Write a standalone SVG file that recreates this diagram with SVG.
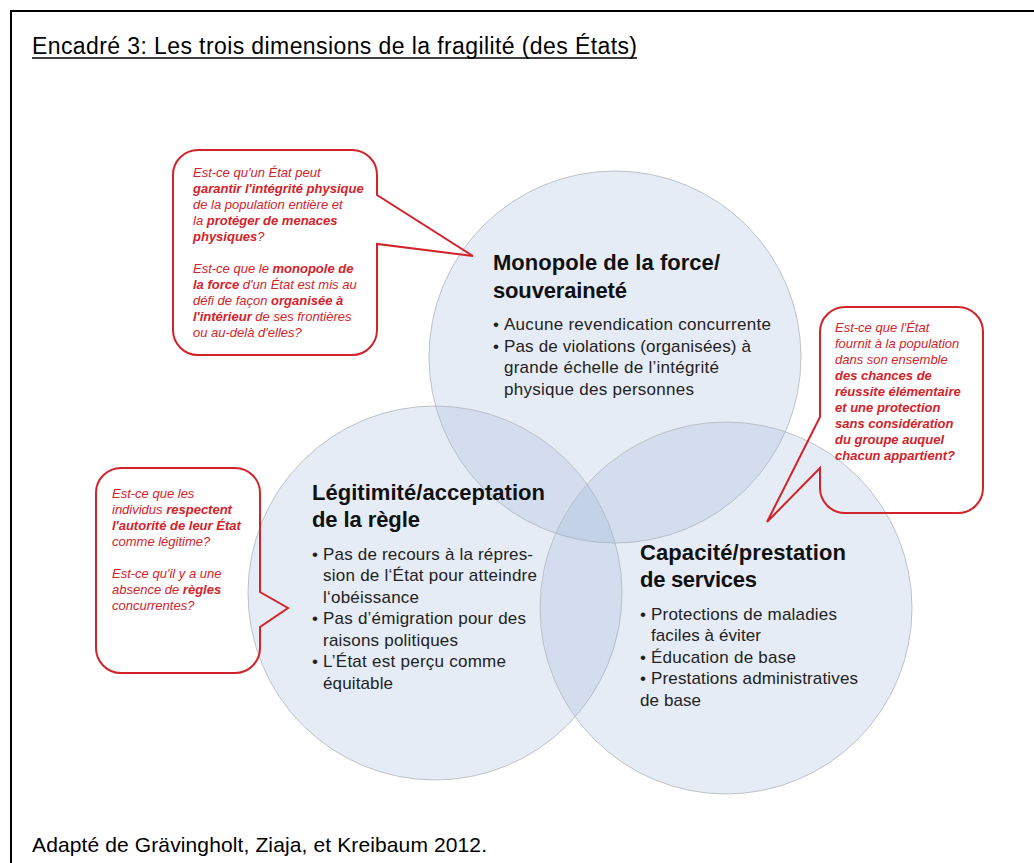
<svg xmlns="http://www.w3.org/2000/svg" width="1034" height="863" viewBox="0 0 1034 863">
<style>
.frame{stroke:#000;stroke-width:2;fill:none}
.ttl{font-family:"Liberation Sans",Arial,sans-serif;fill:#000}
.circ{fill:#97b0d5;fill-opacity:0.24;stroke:#b8bcc2;stroke-width:0.9}
.head{font-family:"Liberation Sans",Arial,sans-serif;font-weight:bold;font-size:22px;fill:#111}
.bul{font-family:"Liberation Sans",Arial,sans-serif;font-size:17px;fill:#222}
.call{fill:none;stroke:#d2232a;stroke-width:2;stroke-linejoin:miter}
.q{font-family:"Liberation Sans",Arial,sans-serif;font-size:13px;font-style:italic;fill:#d2232a}
.b{font-weight:bold}
</style>
<rect width="1034" height="863" fill="#fff"/>
<g id="frame">
<line class="frame" x1="10" y1="11" x2="1034" y2="11"/>
<line class="frame" x1="11" y1="10" x2="11" y2="863"/>
</g>
<g id="title">
<text class="ttl" x="32" y="54" font-size="23" textLength="605" lengthAdjust="spacing">Encadré 3: Les trois dimensions de la fragilité (des États)</text>
<line x1="32" y1="58" x2="637" y2="58" stroke="#000" stroke-width="1.3"/>
</g>
<g id="circle-monopole">
<circle class="circ" cx="615" cy="357" r="186"/>
</g>
<g id="circle-legitimite">
<circle class="circ" cx="435" cy="593" r="187"/>
</g>
<g id="circle-capacite">
<circle class="circ" cx="726" cy="608" r="186"/>
</g>
<g id="text-monopole">
<text class="head" x="493" y="270" textLength="227" lengthAdjust="spacing">Monopole de la force/</text>
<text class="head" x="493" y="298" textLength="134" lengthAdjust="spacing">souveraineté</text>
<text class="bul" x="493" y="330">•</text>
<text class="bul" x="504" y="330" textLength="267" lengthAdjust="spacing">Aucune revendication concurrente</text>
<text class="bul" x="493" y="352">•</text>
<text class="bul" x="504" y="352" textLength="247" lengthAdjust="spacing">Pas de violations (organisées) à</text>
<text class="bul" x="504" y="373" textLength="215" lengthAdjust="spacing">grande échelle de l’intégrité</text>
<text class="bul" x="504" y="395" textLength="190" lengthAdjust="spacing">physique des personnes</text>
</g>
<g id="text-legitimite">
<text class="head" x="312" y="500" textLength="233" lengthAdjust="spacing">Légitimité/acceptation</text>
<text class="head" x="312" y="527" textLength="108" lengthAdjust="spacing">de la règle</text>
<text class="bul" x="312" y="560">•</text>
<text class="bul" x="323" y="560" textLength="210" lengthAdjust="spacing">Pas de recours à la répres-</text>
<text class="bul" x="323" y="581" textLength="214" lengthAdjust="spacing">sion de l‘État pour atteindre</text>
<text class="bul" x="323" y="603" textLength="96" lengthAdjust="spacing">l‘obéissance</text>
<text class="bul" x="312" y="624">•</text>
<text class="bul" x="323" y="624" textLength="203" lengthAdjust="spacing">Pas d’émigration pour des</text>
<text class="bul" x="323" y="646" textLength="135" lengthAdjust="spacing">raisons politiques</text>
<text class="bul" x="312" y="667">•</text>
<text class="bul" x="323" y="667" textLength="183" lengthAdjust="spacing">L’État est perçu comme</text>
<text class="bul" x="323" y="689" textLength="70" lengthAdjust="spacing">équitable</text>
</g>
<g id="text-capacite">
<text class="head" x="640" y="560" textLength="206" lengthAdjust="spacing">Capacité/prestation</text>
<text class="head" x="640" y="587" textLength="117" lengthAdjust="spacing">de services</text>
<text class="bul" x="640" y="620">•</text>
<text class="bul" x="651" y="620" textLength="186" lengthAdjust="spacing">Protections de maladies</text>
<text class="bul" x="651" y="641" textLength="110" lengthAdjust="spacing">faciles à éviter</text>
<text class="bul" x="640" y="663">•</text>
<text class="bul" x="651" y="663" textLength="145" lengthAdjust="spacing">Éducation de base</text>
<text class="bul" x="640" y="684">•</text>
<text class="bul" x="651" y="684" textLength="207" lengthAdjust="spacing">Prestations administratives</text>
<text class="bul" x="640" y="706" textLength="61" lengthAdjust="spacing">de base</text>
</g>
<g id="callouts">
<path id="callout-monopole" class="call" d="M198,150 H352 A25,25 0 0 1 377,175 V195 L473,256 L377,244 V330 A25,25 0 0 1 352,355 H198 A25,25 0 0 1 173,330 V175 A25,25 0 0 1 198,150 Z"/>
<path id="callout-capacite" class="call" d="M845,307 H958 A25,25 0 0 1 983,332 V488 A25,25 0 0 1 958,513 H845 A25,25 0 0 1 820,488 V468 L767,522 L820,417 V332 A25,25 0 0 1 845,307 Z"/>
<path id="callout-legitimite" class="call" d="M121,468 H235 A25,25 0 0 1 260,493 V592 L288,608 L260,627 V648 A25,25 0 0 1 235,673 H121 A25,25 0 0 1 96,648 V493 A25,25 0 0 1 121,468 Z"/>
</g>
<g id="callout-text-monopole">
<text class="q" x="193" y="177">Est-ce qu'un État peut</text>
<text class="q" x="193" y="193"><tspan class="b">garantir l'intégrité physique</tspan></text>
<text class="q" x="193" y="209">de la population entière et</text>
<text class="q" x="193" y="225">la <tspan class="b">protéger de menaces</tspan></text>
<text class="q" x="193" y="241"><tspan class="b">physiques</tspan>?</text>
<text class="q" x="193" y="273">Est-ce que le <tspan class="b">monopole de</tspan></text>
<text class="q" x="193" y="289"><tspan class="b">la force</tspan> d'un État est mis au</text>
<text class="q" x="193" y="305">défi de façon <tspan class="b">organisée à</tspan></text>
<text class="q" x="193" y="321"><tspan class="b">l'intérieur</tspan> de ses frontières</text>
<text class="q" x="193" y="337">ou au-delà d'elles?</text>
</g>
<g id="callout-text-capacite">
<text class="q" x="835" y="332">Est-ce que l'État</text>
<text class="q" x="835" y="348">fournit à la population</text>
<text class="q" x="835" y="364">dans son ensemble</text>
<text class="q b" x="835" y="380">des chances de</text>
<text class="q b" x="835" y="396">réussite élémentaire</text>
<text class="q b" x="835" y="412">et une protection</text>
<text class="q b" x="835" y="428">sans considération</text>
<text class="q b" x="835" y="444">du groupe auquel</text>
<text class="q b" x="835" y="460">chacun appartient?</text>
</g>
<g id="callout-text-legitimite">
<text class="q" x="112" y="498">Est-ce que les</text>
<text class="q" x="112" y="514">individus <tspan class="b">respectent</tspan></text>
<text class="q" x="112" y="530"><tspan class="b">l'autorité de leur État</tspan></text>
<text class="q" x="112" y="546">comme légitime?</text>
<text class="q" x="112" y="578">Est-ce qu'il y a une</text>
<text class="q" x="112" y="594">absence de <tspan class="b">règles</tspan></text>
<text class="q" x="112" y="610">concurrentes?</text>
</g>
<g id="footer">
<text class="ttl" x="32" y="852" font-size="21" textLength="455" lengthAdjust="spacing">Adapté de Grävingholt, Ziaja, et Kreibaum 2012.</text>
</g>
</svg>
